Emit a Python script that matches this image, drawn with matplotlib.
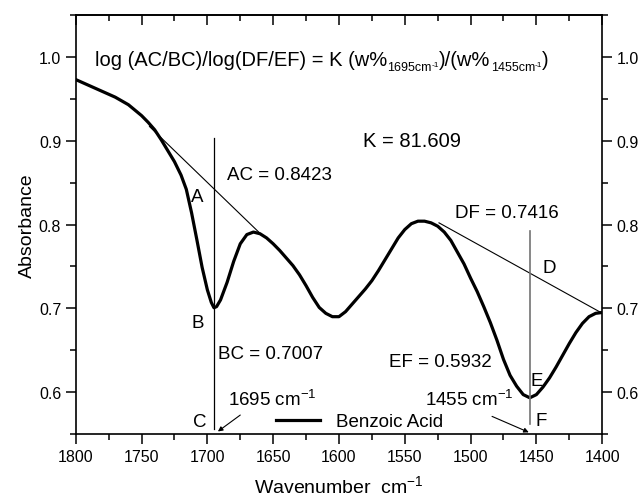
import matplotlib
matplotlib.use("Agg")
from matplotlib import pyplot as plt
from matplotlib.ticker import MultipleLocator, FormatStrFormatter
from matplotlib.transforms import offset_copy

plt.rcParams['font.family'] = ['Liberation Sans', 'DejaVu Sans']
plt.rcParams['mathtext.fontset'] = 'custom'
plt.rcParams['mathtext.rm'] = 'Liberation Sans'
plt.rcParams['mathtext.default'] = 'regular'

# Benzoic acid IR absorbance spectrum
wavenumber = [1800, 1790, 1780, 1770, 1760, 1750, 1745, 1740, 1735, 1730,
              1725, 1720, 1716, 1712, 1708, 1704, 1700, 1697, 1695, 1693,
              1690, 1685, 1680, 1675, 1670, 1665, 1660, 1655, 1650, 1645,
              1640, 1635, 1630, 1625, 1620, 1615, 1610, 1605, 1600, 1595,
              1590, 1585, 1580, 1575, 1570, 1565, 1560, 1555, 1550, 1545,
              1540, 1535, 1530, 1525, 1520, 1515, 1510, 1505, 1500, 1495,
              1490, 1485, 1480, 1475, 1470, 1465, 1460, 1455, 1450, 1445,
              1440, 1435, 1430, 1425, 1420, 1415, 1410, 1405, 1400]
absorbance = [0.973, 0.966, 0.959, 0.952, 0.943, 0.930, 0.922, 0.913, 0.901, 0.888,
              0.875, 0.859, 0.842, 0.814, 0.782, 0.749, 0.722, 0.707, 0.7007, 0.702,
              0.710, 0.731, 0.756, 0.777, 0.788, 0.791, 0.789, 0.784, 0.777, 0.769,
              0.760, 0.751, 0.740, 0.727, 0.713, 0.701, 0.694, 0.690, 0.690, 0.696,
              0.705, 0.714, 0.723, 0.733, 0.745, 0.758, 0.771, 0.784, 0.794, 0.801,
              0.804, 0.804, 0.802, 0.798, 0.791, 0.781, 0.767, 0.753, 0.736, 0.720,
              0.702, 0.683, 0.662, 0.639, 0.620, 0.607, 0.597, 0.5932, 0.597, 0.606,
              0.617, 0.630, 0.644, 0.658, 0.671, 0.682, 0.690, 0.694, 0.695]

# baselines (tangent lines) for the two bands
base1_x = [1744, 1660]
base1_y = [0.917, 0.7895]
base2_x = [1524, 1401]
base2_y = [0.802, 0.695]

# band positions and measured heights
band1, band2 = 1695, 1455
AC, BC = 0.8423, 0.7007
DF, EF = 0.7416, 0.5932
K = 81.609

fig = plt.figure(figsize=(6.42, 5.02), dpi=100)
ax = fig.add_axes([0.118, 0.1335, 0.82, 0.8345])

ax.plot(wavenumber, absorbance, color='black', lw=2.3, label='Benzoic Acid',
        solid_joinstyle='round')
ax.plot(base1_x, base1_y, color='black', lw=0.8)
ax.plot(base2_x, base2_y, color='black', lw=0.8)
ax.plot([band1, band1], [0.556, 0.903], color='black', lw=0.9)
ax.plot([band2, band2], [0.562, 0.792], color='0.45', lw=1.2)

ax.set_xlim(1800, 1400)
ax.set_ylim(0.55, 1.05)
ax.xaxis.set_major_locator(MultipleLocator(50))
ax.xaxis.set_minor_locator(MultipleLocator(25))
ax.yaxis.set_major_locator(MultipleLocator(0.1))
ax.yaxis.set_minor_locator(MultipleLocator(0.05))
ax.yaxis.set_major_formatter(FormatStrFormatter('%.1f'))
ax.tick_params(axis='both', which='major', direction='out', length=7, width=1.1,
               labelsize=11.5, left=True, right=True, labelright=True)
ax.tick_params(axis='both', which='minor', direction='out', length=4, width=1.1,
               left=True, right=True)
for s in ax.spines.values():
    s.set_linewidth(1.2)

top = ax.secondary_xaxis('top')
top.xaxis.set_major_locator(MultipleLocator(50))
top.xaxis.set_minor_locator(MultipleLocator(25))
top.tick_params(which='major', direction='in', length=7, width=1.1, labeltop=False)
top.tick_params(which='minor', direction='in', length=4, width=1.1)
top.spines['top'].set_linewidth(1.2)

ax.set_xlabel('Wavenumber  cm$^{-1}$', fontsize=14, labelpad=8)
ax.set_ylabel('Absorbance', fontsize=14, labelpad=2)

fs = 13.5
fs_eq = 14.5

# equation line, built piece by piece so the subscripts stay small
renderer = fig.canvas.get_renderer()
pieces = [('log (AC/BC)/log(DF/EF) = K (w%', fs_eq, 0),
          ('1695cm', 9, -5), ('-1', 6, -1),
          (')/(w%', fs_eq, 0),
          ('1455cm', 9, -5), ('-1', 6, -1),
          (')', fs_eq, 0)]
dx = 0
for s, size, dy in pieces:
    tr = offset_copy(ax.transData, fig=fig, x=dx, y=dy, units='dots')
    t = ax.text(1785.3, 0.990, s, fontsize=size, va='baseline', transform=tr)
    dx += t.get_window_extent(renderer).width

ax.text(1581.5, 0.90, 'K = %.3f' % K, fontsize=fs_eq, va='center')
ax.text(1685.2, 0.8595, 'AC = %.4f' % AC, fontsize=fs, va='center')
ax.text(1691.8, 0.6464, 'BC = %.4f' % BC, fontsize=fs, va='center')
ax.text(1511.6, 0.8147, 'DF = %.4f' % DF, fontsize=fs, va='center')
ax.text(1562.3, 0.636, 'EF = %.4f' % EF, fontsize=fs, va='center')
for lbl, x, y in [('A', 1707.5, 0.833), ('B', 1707.0, 0.683), ('C', 1706.0, 0.565),
                  ('D', 1440.6, 0.7485), ('E', 1449.4, 0.6135), ('F', 1446.4, 0.566)]:
    ax.text(x, y, lbl, fontsize=fs, ha='center', va='center')

ax.text(1684.0, 0.5917, '%d cm$^{-1}$' % band1, fontsize=fs, va='center')
ax.text(1534.4, 0.5917, '%d cm$^{-1}$' % band2, fontsize=fs, va='center')
arrow = dict(arrowstyle='-|>', color='black', lw=0.8, mutation_scale=7,
             shrinkA=0, shrinkB=0)
ax.annotate('', xy=(1692, 0.553), xytext=(1675, 0.5726), arrowprops=arrow)
ax.annotate('', xy=(1455.8, 0.552), xytext=(1483.7, 0.571), arrowprops=arrow)

ax.legend(loc='center left', bbox_to_anchor=(0.380, 0.0294), frameon=False,
          fontsize=fs, handlelength=2.35, handletextpad=0.85, borderpad=0,
          borderaxespad=0)

fig.savefig('out.png', dpi=100)
